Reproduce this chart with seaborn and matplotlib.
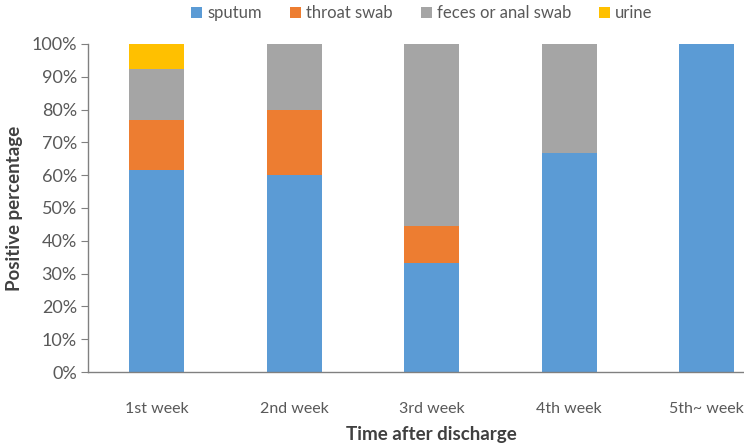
import pandas as pd
import numpy as np
import matplotlib
matplotlib.use("Agg")
import matplotlib.pyplot as plt
import seaborn as sns
from matplotlib.patches import Patch
from matplotlib.ticker import PercentFormatter

# datos (porcentaje de positivos por tipo de muestra)
weeks = ['1st week', '2nd week', '3rd week', '4th week', '5th~ week']
sputum = [61.5, 60.0, 33.3, 66.7, 100.0]
throat_swab = [15.4, 20.0, 11.1, 0.0, 0.0]
feces_anal = [15.4, 20.0, 55.6, 33.3, 0.0]
urine = [7.7, 0.0, 0.0, 0.0, 0.0]

series_names = ['sputum', 'throat swab', 'feces or anal swab', 'urine']
colors = ['#5B9BD5', '#ED7D31', '#A5A5A5', '#FFC000']

sns.set_style("white")
plt.rcParams['font.family'] = ['Lato', 'DejaVu Sans']

df = pd.DataFrame({'week': weeks, 'sputum': sputum, 'throat swab': throat_swab,
                   'feces or anal swab': feces_anal, 'urine': urine})

# acumulados para apilar: se dibuja de arriba hacia abajo
cum = df[series_names].cumsum(axis=1)

fig = plt.figure(figsize=(7.44, 4.44), dpi=100)
ax = fig.add_axes([88 / 744, 1 - 372 / 444, 687.5 / 744, 328 / 444])

for name, col in zip(series_names[::-1], colors[::-1]):
    sns.barplot(x=df['week'], y=cum[name], color=col, width=0.4,
                saturation=1, ax=ax, linewidth=0)

ax.set_ylim(0, 100)
ax.set_xlim(-0.5, 4.5)
ax.set_yticks(np.arange(0, 101, 10))
ax.yaxis.set_major_formatter(PercentFormatter(decimals=0))
ax.tick_params(axis='y', left=True, length=5, color='#808080', labelsize=13,
               labelcolor='#595959', pad=3)
ax.tick_params(axis='x', bottom=False, labelsize=11.5, labelcolor='#595959', pad=18)

for s in ['top', 'right']:
    ax.spines[s].set_visible(False)
for s in ['left', 'bottom']:
    ax.spines[s].set_color('#808080')
    ax.spines[s].set_linewidth(1.0)

ax.set_xlabel('Time after discharge', fontsize=13.5, fontweight='bold', color='#404040', labelpad=7)
ax.set_ylabel('Positive percentage', fontsize=13.5, fontweight='bold', color='#404040', labelpad=6)

handles = [Patch(facecolor=c, edgecolor='none') for c in colors]
fig.legend(handles, series_names, loc='center', bbox_to_anchor=(422 / 744, 1 - 13 / 444),
           ncol=4, frameon=False, fontsize=12, labelcolor='#595959',
           handlelength=0.65, handleheight=0.65, handletextpad=0.3, columnspacing=1.7)

plt.savefig('out.png', dpi=100)
